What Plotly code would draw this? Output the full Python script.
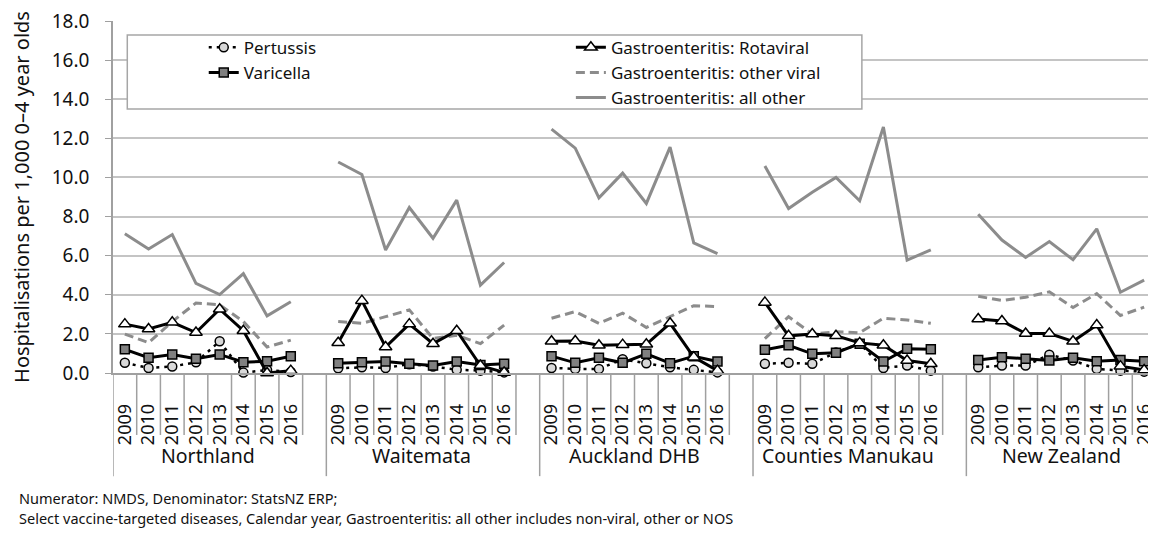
import plotly.graph_objects as go

regions = ["Northland", "Waitemata", "Auckland DHB", "Counties Manukau", "New Zealand"]
years = ["2009", "2010", "2011", "2012", "2013", "2014", "2015", "2016"]

# rates per 1,000 0-4 year olds, 8 years per region
pertussis = [0.52, 0.26, 0.33, 0.55, 1.62, 0.02, 0.15, 0.05,
             0.24, 0.29, 0.26, 0.45, 0.33, 0.17, 0.12, 0.03,
             0.26, 0.21, 0.21, 0.70, 0.50, 0.29, 0.16, 0.03,
             0.47, 0.52, 0.47, 1.05, 1.50, 0.26, 0.38, 0.12,
             0.29, 0.38, 0.38, 0.93, 0.64, 0.21, 0.12, 0.07]
varicella = [1.21, 0.78, 0.95, 0.73, 0.95, 0.55, 0.60, 0.86,
             0.50, 0.55, 0.59, 0.47, 0.38, 0.59, 0.41, 0.47,
             0.86, 0.52, 0.78, 0.52, 0.98, 0.50, 0.86, 0.59,
             1.19, 1.42, 0.98, 1.04, 1.50, 0.59, 1.24, 1.21,
             0.67, 0.81, 0.73, 0.64, 0.78, 0.60, 0.67, 0.60]
rotaviral = [2.50, 2.25, 2.59, 2.07, 3.26, 2.16, 0.00, 0.12,
             1.55, 3.70, 1.33, 2.50, 1.50, 2.16, 0.38, 0.03,
             1.62, 1.64, 1.42, 1.45, 1.47, 2.54, 0.81, 0.12,
             3.61, 1.90, 1.99, 1.90, 1.54, 1.42, 0.64, 0.47,
             2.76, 2.66, 2.02, 2.02, 1.62, 2.45, 0.35, 0.15]
other_viral = [1.99, 1.55, 2.63, 3.58, 3.49, 2.63, 1.33, 1.68,
               2.63, 2.54, 2.88, 3.23, 1.76, 1.93, 1.50, 2.45,
               2.80, 3.14, 2.54, 3.06, 2.33, 2.88, 3.44, 3.40,
               1.76, 2.88, 1.99, 2.11, 2.06, 2.80, 2.71, 2.54,
               3.92, 3.71, 3.87, 4.15, 3.35, 4.06, 2.94, 3.37]
all_other = [7.12, 6.34, 7.08, 4.58, 4.01, 5.08, 2.92, 3.64,
             10.79, 10.15, 6.29, 8.46, 6.89, 8.84, 4.49, 5.65,
             12.47, 11.50, 8.96, 10.22, 8.67, 11.55, 6.65, 6.11,
             10.58, 8.41, 9.24, 10.00, 8.81, 12.58, 5.77, 6.30,
             8.12, 6.80, 5.91, 6.72, 5.79, 7.37, 4.13, 4.75]

FONT = "Noto Sans"
TXT = "#111111"
GRAY = "#8c8c8c"
SEP = "#a0a0a0"

n = len(years)
step = n + 1  # one empty slot after every region


def spread(values):
    # category index for every point, None in the empty slot so lines break
    xs, ys = [], []
    for g in range(len(regions)):
        for i in range(n):
            xs.append(g * step + i)
            ys.append(values[g * n + i])
        if g < len(regions) - 1:
            xs.append(g * step + n)
            ys.append(None)
    return xs, ys


fig = go.Figure()

series = [
    # name, values, legend, rank, line, marker
    ("Gastroenteritis: all other", all_other, "legend2", 3,
     dict(color=GRAY, width=3), None),
    ("Gastroenteritis: other viral", other_viral, "legend2", 2,
     dict(color=GRAY, width=3, dash="9px,5px"), None),
    ("Pertussis", pertussis, "legend", 1,
     dict(color="black", width=2.5, dash="3px,5px"),
     dict(symbol="circle", size=9, color="#d9d9d9", line=dict(color="black", width=1.5))),
    ("Varicella", varicella, "legend", 2,
     dict(color="black", width=3),
     dict(symbol="square", size=9, color="#808080", line=dict(color="black", width=1.5))),
    ("Gastroenteritis: Rotaviral", rotaviral, "legend2", 1,
     dict(color="black", width=3),
     dict(symbol="triangle-up", size=11, color="white", line=dict(color="black", width=1.5))),
]

for name, vals, leg, rank, line, marker in series:
    xs, ys = spread(vals)
    fig.add_trace(go.Scatter(
        x=xs, y=ys, name=name,
        mode="lines+markers" if marker else "lines",
        line=line, marker=marker,
        connectgaps=False, cliponaxis=False,
        legend=leg, legendrank=rank,
    ))

# year tick labels under every category
tickvals, ticktext = [], []
for g in range(len(regions)):
    for i, yr in enumerate(years):
        tickvals.append(g * step + i)
        ticktext.append(yr)

total = len(regions) * step - 1

shapes = []
# separators of the two-level category axis
for g in range(len(regions)):
    shapes.append(dict(type="line", xref="x", yref="paper",
                       x0=g * step - 0.5, x1=g * step - 0.5, y0=0, y1=-0.293,
                       line=dict(color=SEP, width=1.5)))
    for i in range(1, n + 1):
        xv = g * step + i - 0.5
        if xv <= total - 0.5:
            shapes.append(dict(type="line", xref="x", yref="paper",
                               x0=xv, x1=xv, y0=0, y1=-0.176,
                               line=dict(color=SEP, width=1.5)))
# legend box
shapes.append(dict(type="rect", xref="paper", yref="paper",
                   x0=0.0137, x1=0.718, y0=0.75, y1=0.96,
                   fillcolor="white", line=dict(color="#a6a6a6", width=1.5),
                   layer="above"))

annotations = []
for g, reg in enumerate(regions):
    annotations.append(dict(x=g * step + (n - 1) / 2, xref="x",
                            y=-0.235, yref="paper", yanchor="middle",
                            text=reg, showarrow=False,
                            font=dict(size=19.5, color=TXT, family=FONT)))
foot = ["Numerator: NMDS, Denominator: StatsNZ ERP;",
        "Select vaccine-targeted diseases, Calendar year, Gastroenteritis: all other includes non-viral, other or NOS"]
for k, line in enumerate(foot):
    annotations.append(dict(x=-0.0925, xref="paper", xanchor="left",
                            y=-0.354 - k * 0.0568, yref="paper", yanchor="middle",
                            text=line, showarrow=False,
                            font=dict(size=14.5, color=TXT, family=FONT)))

# the page adds an 8px body margin, so the figure is 8px smaller and shifted
fig.update_layout(
    width=1148, height=525,
    margin=dict(l=105, r=0, t=13, b=160),
    plot_bgcolor="white", paper_bgcolor="white",
    font=dict(family=FONT, color=TXT),
    shapes=shapes, annotations=annotations,
    legend=dict(x=0.087, y=0.975, xanchor="left", yanchor="top",
                bgcolor="rgba(0,0,0,0)", font=dict(size=17, family=FONT, color=TXT),
                tracegroupgap=0),
    legend2=dict(x=0.439, y=0.975, xanchor="left", yanchor="top",
                 bgcolor="rgba(0,0,0,0)", font=dict(size=17, family=FONT, color=TXT),
                 tracegroupgap=0),
)

fig.update_xaxes(range=[-0.5, total - 0.5], tickmode="array", tickvals=tickvals,
                 ticktext=ticktext, tickangle=-90, ticks="", ticklabelstandoff=22,
                 tickfont=dict(size=18, family=FONT, color=TXT),
                 showgrid=False, zeroline=False, showline=True,
                 linecolor=SEP, linewidth=1.5)
fig.update_yaxes(range=[0, 18], dtick=2, tickformat=".1f",
                 title=dict(text="Hospitalisations per 1,000 0–4 year olds",
                            font=dict(size=20, family=FONT, color=TXT), standoff=22),
                 tickfont=dict(size=19, family=FONT, color=TXT),
                 ticklabelstandoff=12, ticklabeloverflow="allow",
                 ticks="outside", ticklen=6, tickcolor=SEP,
                 showgrid=True, gridcolor="#c4c4c4", gridwidth=1.5,
                 zeroline=False, showline=True, linecolor=SEP, linewidth=1.5)

fig.write_html("out.html")
